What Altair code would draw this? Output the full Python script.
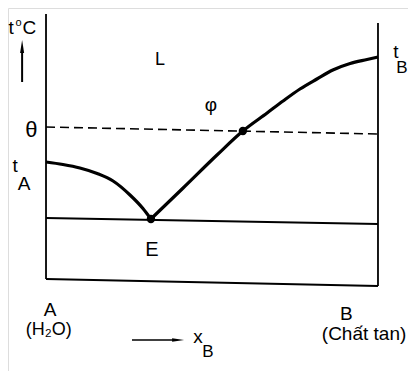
import altair as alt
import pandas as pd

# Liquidus branch from t_A down to eutectic E (x = mole fraction of B)
branchA_x = [0.0, 0.051, 0.102, 0.154, 0.202, 0.253, 0.292, 0.316]
branchA_t = [117, 114.5, 111, 105.5, 98, 84, 70.5, 60]
# Liquidus branch from E up to t_B
branchB_x = [0.316, 0.413, 0.515, 0.593, 0.666, 0.714, 0.765, 0.816, 0.864, 0.916, 0.967, 1.0]
branchB_t = [60, 91, 124, 148, 166, 178, 190, 200, 209, 215.5, 219.5, 222]

# Straight segments (scan is slightly tilted)
seg_names = ["axisA", "axisA", "axisB", "axisB", "base", "base", "eut", "eut"]
seg_x = [0.0, 0.0, 1.0, 1.0, 0.0, 1.0, 0.0, 1.0]
seg_t = [0, 265, -7, 256, 0, -7, 61, 55]
theta_x = [0.0, 1.0]
theta_t = [152, 145]

point_names = ["E", "phi"]
point_x = [0.316, 0.593]
point_t = [60, 148]

xs = alt.Scale(domain=[-0.1145, 1.0904], nice=False, zero=False)
ys = alt.Scale(domain=[-92, 271], nice=False, zero=False)
X = alt.X("x:Q", scale=xs, axis=None)
Y = alt.Y("t:Q", scale=ys, axis=None)

curve = pd.DataFrame({
    "x": branchA_x + branchB_x,
    "t": branchA_t + branchB_t,
    "branch": ["A"] * len(branchA_x) + ["B"] * len(branchB_x),
    "i": list(range(len(branchA_x))) + list(range(len(branchB_x))),
})
segs = pd.DataFrame({"x": seg_x, "t": seg_t, "seg": seg_names})
theta = pd.DataFrame({"x": theta_x, "t": theta_t})
pts = pd.DataFrame({"x": point_x, "t": point_t, "name": point_names})

labels = pd.DataFrame([
    ("t", -0.105, 245, 19), ("o", -0.083, 253, 11), ("C", -0.050, 245, 19),
    ("θ", -0.044, 142, 22),
    ("t", -0.093, 107, 19), ("A", -0.066, 89, 19),
    ("L", 0.343, 214, 18), ("φ", 0.497, 168, 19),
    ("t", 1.054, 221, 19), ("B", 1.072, 206, 17),
    ("E", 0.319, 23, 20),
    ("A", 0.012, -37, 19), ("(H₂O)", 0.008, -56, 18),
    ("B", 0.905, -41, 19), ("(Chất tan)", 0.958, -61, 19),
    ("x", 0.458, -64, 19), ("B", 0.488, -78, 17),
], columns=["label", "x", "t", "size"])

arrow_up = pd.DataFrame({"x": [-0.072, -0.072], "t": [197, 229]})
arrow_up_head = pd.DataFrame({"x": [-0.072], "t": [232.5]})
arrow_r = pd.DataFrame({"x": [0.259, 0.392], "t": [-61, -61]})
arrow_r_head = pd.DataFrame({"x": [0.398], "t": [-61]})

l_curve = alt.Chart(curve).mark_line(color="black", strokeWidth=3.2, interpolate="monotone").encode(
    x=X, y=Y, detail="branch:N", order="i:Q")
l_segs = alt.Chart(segs).mark_line(color="black", strokeWidth=1.8).encode(
    x=X, y=Y, detail="seg:N")
l_theta = alt.Chart(theta).mark_line(color="black", strokeWidth=1.6, strokeDash=[9, 5]).encode(x=X, y=Y)
l_pts = alt.Chart(pts).mark_point(filled=True, color="black", size=70, opacity=1).encode(x=X, y=Y)
l_text = alt.Chart(labels).mark_text(font="Liberation Sans", baseline="alphabetic", align="center",
                                     color="black").encode(
    x=X, y=Y, text="label:N", size=alt.Size("size:Q", scale=None, legend=None))
l_au = alt.Chart(arrow_up).mark_line(color="black", strokeWidth=2).encode(x=X, y=Y)
l_auh = alt.Chart(arrow_up_head).mark_point(shape="M0,-1L0.31,1L-0.31,1Z", filled=True, color="black",
                                            size=169, opacity=1).encode(x=X, y=Y)
l_ar = alt.Chart(arrow_r).mark_line(color="black", strokeWidth=1.5).encode(x=X, y=Y)
l_arh = alt.Chart(arrow_r_head).mark_point(shape="M1,0L-1,0.3L-1,-0.3Z", filled=True, color="black",
                                           size=144, opacity=1).encode(x=X, y=Y)

chart = alt.layer(l_segs, l_theta, l_curve, l_pts, l_au, l_auh, l_ar, l_arh, l_text).properties(
    width=400, height=363, autosize=alt.AutoSizeParams(type="none"), padding=0
).configure_view(stroke=None).configure(background="white")

chart.save("out.html", embed_options={"renderer": "svg", "actions": False})
